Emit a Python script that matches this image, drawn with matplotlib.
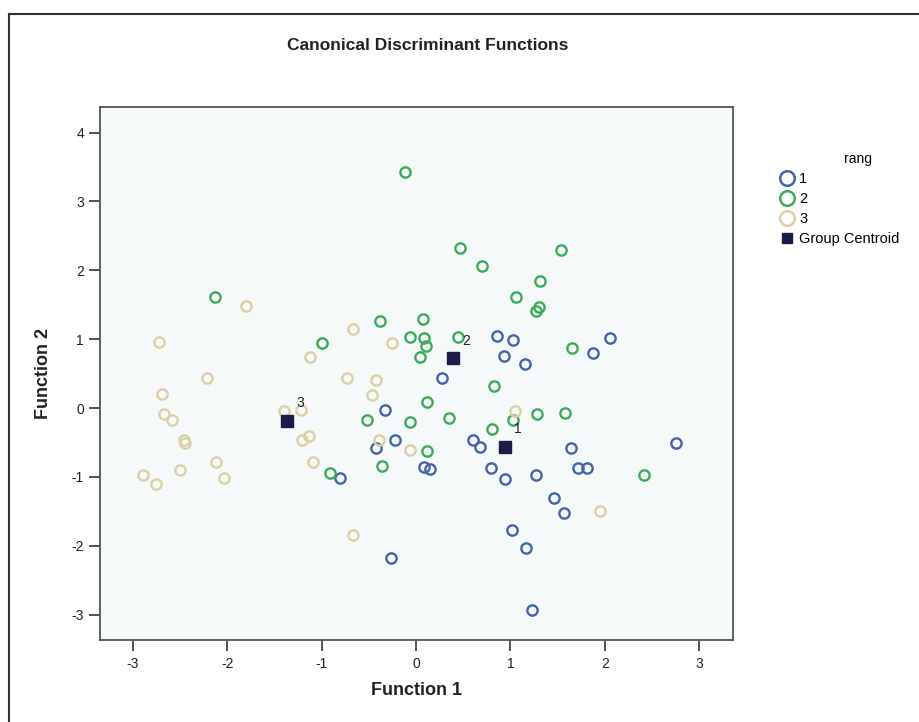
import matplotlib
matplotlib.use("Agg")
import matplotlib.pyplot as plt
from matplotlib.lines import Line2D
from matplotlib import font_manager

plt.rcParams['font.family'] = ['Liberation Sans', 'DejaVu Sans']

# ---- data ----
g1_x = [0.86, 1.03, 2.05, 1.87, 0.93, 1.15, 0.28, -0.33, -0.22, -0.42, 0.08, 0.15, -0.81, -0.27,
        0.60, 0.68, 1.64, 2.75, 0.79, 0.94, 1.27, 1.72, 1.81, 1.46, 1.57, 1.02, 1.17, 1.23]
g1_y = [1.04, 0.99, 1.01, 0.80, 0.76, 0.64, 0.43, -0.03, -0.47, -0.58, -0.85, -0.88, -1.01, -2.18,
        -0.46, -0.56, -0.58, -0.51, -0.87, -1.03, -0.97, -0.87, -0.87, -1.31, -1.53, -1.77, -2.03, -2.94]

g2_x = [-0.12, -2.13, -1.00, -0.38, 0.07, -0.06, 0.08, 0.11, 0.04, 0.45, 0.47, 0.70, 1.54, 1.31,
        1.06, 1.27, 1.30, 1.65, 0.83, 0.12, -0.52, -0.06, 0.35, 1.03, 0.81, 1.28, 1.58, 0.12,
        -0.36, -0.91, 2.42]
g2_y = [3.43, 1.61, 0.95, 1.27, 1.29, 1.03, 1.01, 0.90, 0.74, 1.03, 2.32, 2.06, 2.29, 1.84,
        1.61, 1.41, 1.47, 0.87, 0.32, 0.08, -0.17, -0.20, -0.15, -0.18, -0.31, -0.09, -0.07, -0.63,
        -0.84, -0.94, -0.98]

g3_x = [-2.72, -1.80, -0.67, -0.25, -1.12, -2.21, -0.73, -0.42, -2.69, -0.47, -2.67, -2.58, -1.40,
        -1.22, -2.46, -2.45, -1.13, -1.21, -0.39, -0.06, -1.09, -2.12, -2.50, -2.03, -2.89, -2.75,
        -0.67, 1.05, 1.95]
g3_y = [0.96, 1.48, 1.14, 0.94, 0.74, 0.43, 0.43, 0.41, 0.21, 0.19, -0.08, -0.17, -0.05,
        -0.03, -0.47, -0.51, -0.41, -0.47, -0.46, -0.61, -0.78, -0.79, -0.90, -1.01, -0.97, -1.10,
        -1.84, -0.04, -1.49]

centroid_labels = ["1", "2", "3"]
centroid_x = [0.94, 0.39, -1.37]
centroid_y = [-0.56, 0.72, -0.19]

group_names = ["1", "2", "3"]
xticks = [-3, -2, -1, 0, 1, 2, 3]
yticks = [-3, -2, -1, 0, 1, 2, 3, 4]

# ---- style ----
colors = ["#4364aa", "#3cab56", "#dbd1a4"]
centroid_color = "#1c1c48"

installed = {f.name for f in font_manager.fontManager.ttflist}
narrow = ['Liberation Sans Narrow'] if 'Liberation Sans Narrow' in installed else []

fig = plt.figure(figsize=(9.2, 7.22), dpi=100)
ax = fig.add_axes([100/920, 1-640/722, 633/920, 533/722])
ax.set_facecolor("#f6f9fa")

ms = 7.4
mew = 1.7
for gx, gy, c in zip([g1_x, g2_x, g3_x], [g1_y, g2_y, g3_y], colors):
    ax.plot(gx, gy, linestyle='none', marker='o', markersize=ms, markerfacecolor='none',
            markeredgecolor=c, markeredgewidth=mew, zorder=3)

ax.plot(centroid_x, centroid_y, linestyle='none', marker='s', markersize=8.5,
        color=centroid_color, zorder=4)
for lab, cx, cy in zip(centroid_labels, centroid_x, centroid_y):
    ax.annotate(lab, (cx, cy), xytext=(7, 10), textcoords='offset points',
                fontsize=10, color='#222222', zorder=5)

ax.set_xlim((100-416)/94.4, (733-416)/94.4)
ax.set_ylim((408-640)/68.86, (408-107)/68.86)
ax.set_xticks(xticks)
ax.set_yticks(yticks)
ax.set_xticklabels([str(t) for t in xticks])
ax.set_yticklabels([str(t) for t in yticks])
ax.tick_params(direction='out', length=8, width=1.3, color='#444444', labelsize=10,
               labelcolor='#222222')
ax.tick_params(axis='x', pad=4)
for s in ax.spines.values():
    s.set_color('#555555')
    s.set_linewidth(1.3)

ax.set_xlabel("Function 1", fontsize=13, fontweight='bold', labelpad=8, color='#222222')
ax.set_ylabel("Function 2", fontsize=13, fontweight='bold', labelpad=14, color='#222222')

fig.text(428/920, 1-45/722, "Canonical Discriminant Functions", ha='center', va='center',
         fontsize=15 if narrow else 12.5, fontweight='bold', color='#222222',
         family=narrow + ['Liberation Sans', 'DejaVu Sans'])

# legend
handles = [Line2D([], [], linestyle='none', marker='o', markersize=10.5, markerfacecolor='none',
                  markeredgecolor=c, markeredgewidth=1.8) for c in colors]
handles.append(Line2D([], [], linestyle='none', marker='s', markersize=7.5, color=centroid_color))
leg = fig.legend(handles, group_names + ["Group Centroid"], loc='upper left',
                 bbox_to_anchor=(772/920, 1-146/722), frameon=False, title="rang",
                 fontsize=10.5, title_fontsize=10, handletextpad=0.15, labelspacing=0.42,
                 handlelength=1.3, borderaxespad=0)
leg._legend_box.align = "left"
leg.get_title().set_position((66, 0))

# outer frame lines (top and left)
fig.add_artist(Line2D([9/920, 9/920], [0, 1-14/722], transform=fig.transFigure,
                      color='#333333', linewidth=1.5))
fig.add_artist(Line2D([9/920, 1], [1-14/722, 1-14/722], transform=fig.transFigure,
                      color='#333333', linewidth=1.5))

fig.savefig("out.png", dpi=100)
